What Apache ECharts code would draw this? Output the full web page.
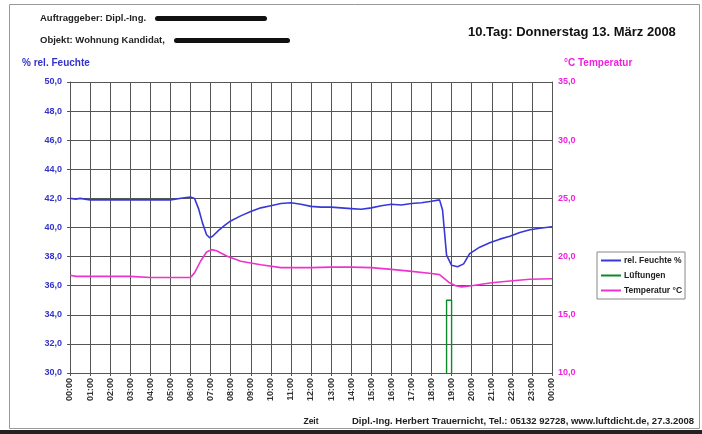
<!DOCTYPE html>
<html><head><meta charset="utf-8">
<script src="https://cdn.jsdelivr.net/npm/echarts@6/dist/echarts.min.js"></script>
<style>html,body{margin:0;padding:0;background:#fff}#c{width:702px;height:434px}</style>
</head><body><div id="c"></div>
<script>
// x tick labels (hours)
var timeLabels = ["00:00","01:00","02:00","03:00","04:00","05:00","06:00","07:00","08:00","09:00","10:00","11:00","12:00","13:00","14:00","15:00","16:00","17:00","18:00","19:00","20:00","21:00","22:00","23:00","00:00"];
var seriesNames = ["rel. Feuchte %", "Lüftungen", "Temperatur °C"];
// [hour, % rel. Feuchte]
var humidity = [[0,42.0],[0.3,41.95],[0.5,42.0],[1,41.9],[2,41.9],[3,41.9],[4,41.9],[5,41.9],[5.7,42.05],[6,42.1],[6.2,42.0],[6.4,41.3],[6.6,40.3],[6.8,39.5],[6.95,39.3],[7.1,39.4],[7.4,39.8],[7.7,40.15],[8,40.45],[8.5,40.8],[9,41.1],[9.5,41.35],[10,41.5],[10.5,41.65],[11,41.7],[11.5,41.6],[12,41.45],[12.5,41.4],[13,41.4],[13.5,41.35],[14,41.3],[14.5,41.25],[15,41.35],[15.5,41.5],[16,41.6],[16.5,41.55],[17,41.65],[17.5,41.7],[18,41.8],[18.4,41.9],[18.55,41.2],[18.75,38.1],[19.0,37.4],[19.3,37.3],[19.6,37.5],[19.9,38.2],[20.4,38.65],[20.9,38.95],[21.4,39.2],[21.9,39.4],[22.4,39.65],[22.9,39.85],[23.4,39.95],[24,40.05]];
// [hour, Lüftung marker]
var ventilation = [[0,0],[18.75,0],[18.75,35],[19.0,35],[19.0,0],[24,0]];
// [hour, °C]
var temperature = [[0,18.4],[0.3,18.3],[1,18.3],[2,18.3],[3,18.3],[4,18.2],[5,18.2],[6,18.2],[6.2,18.6],[6.5,19.6],[6.8,20.4],[7.05,20.6],[7.3,20.5],[7.8,20.05],[8.5,19.6],[9.5,19.3],[10.5,19.05],[11,19.05],[12,19.05],[13,19.1],[14,19.1],[15,19.05],[16,18.9],[16.9,18.75],[18,18.55],[18.4,18.45],[18.9,17.75],[19.2,17.5],[19.5,17.4],[20.0,17.5],[20.4,17.6],[21,17.75],[21.9,17.9],[22.9,18.05],[24,18.1]];

var FONT = "Liberation Sans, Arial, sans-serif";
var chart = echarts.init(document.getElementById('c'));
function comma(v){ return v.toFixed(1).replace('.', ','); }
chart.setOption({
  animation: false,
  backgroundColor: '#fff',
  textStyle: { fontFamily: FONT },
  grid: { left: 70, right: 150, top: 82, bottom: 61 },
  legend: {
    orient: 'vertical', left: 597, top: 252,
    data: seriesNames, icon: 'rect',
    borderColor: '#888', borderWidth: 1, padding: [4, 3, 4, 4],
    itemWidth: 20, itemHeight: 2, itemGap: 6,
    textStyle: { fontSize: 8.5, fontWeight: 'bold', color: '#222', fontFamily: FONT, padding: [0, 0, 0, -2] }
  },
  xAxis: {
    type: 'value', min: 0, max: 24, interval: 1,
    axisLine: { show: true, lineStyle: { color: '#555' } },
    axisTick: { show: true, length: 3, lineStyle: { color: '#555' } },
    splitLine: { show: true, lineStyle: { color: '#555', width: 1 } },
    axisLabel: { rotate: 90, fontSize: 9, fontWeight: 'bold', color: '#333', margin: 5,
      formatter: function(v){ return timeLabels[Math.round(v)]; } },
    name: 'Zeit', nameLocation: 'middle', nameGap: 44,
    nameTextStyle: { fontSize: 8.5, fontWeight: 'bold', color: '#222' }
  },
  yAxis: [{
    type: 'value', min: 30, max: 50, interval: 2,
    axisLine: { show: true, lineStyle: { color: '#555' } },
    axisTick: { show: true, length: 3, lineStyle: { color: '#555' } },
    splitLine: { show: true, lineStyle: { color: '#555', width: 1 } },
    axisLabel: { fontSize: 9, fontWeight: 'bold', color: '#3333cc', margin: 8, formatter: comma }
  }, {
    type: 'value', min: 10, max: 35, interval: 5,
    axisLine: { show: true, lineStyle: { color: '#555' } },
    axisTick: { show: false },
    splitLine: { show: false },
    axisLabel: { fontSize: 9, fontWeight: 'bold', color: '#ee22dd', margin: 6, formatter: comma }
  }],
  series: [{
    name: seriesNames[0], type: 'line', data: humidity, yAxisIndex: 0,
    symbol: 'none', lineStyle: { color: '#3838d8', width: 1.6 }, itemStyle: { color: '#3838d8' }
  }, {
    name: seriesNames[1], type: 'line', data: ventilation, yAxisIndex: 0,
    symbol: 'none', clip: true, lineStyle: { color: '#0a8a2a', width: 1.4 }, itemStyle: { color: '#0a8a2a' }
  }, {
    name: seriesNames[2], type: 'line', data: temperature, yAxisIndex: 1,
    symbol: 'none', lineStyle: { color: '#ee33cc', width: 1.6 }, itemStyle: { color: '#ee33cc' }
  }],
  graphic: [
    { type: 'rect', shape: { x: 9.5, y: 4.5, width: 690, height: 424 }, style: { fill: 'none', stroke: '#999', lineWidth: 1 } },
    { type: 'rect', shape: { x: 0, y: 430, width: 702, height: 4 }, style: { fill: '#222' } },
    { type: 'text', left: 40, top: 13, style: { text: 'Auftraggeber: Dipl.-Ing.', fontSize: 9.5, fontWeight: 'bold', fill: '#222', fontFamily: FONT } },
    { type: 'rect', shape: { x: 155, y: 16, width: 112, height: 5, r: 2.5 }, style: { fill: '#111' } },
    { type: 'text', left: 40, top: 35, style: { text: 'Objekt: Wohnung Kandidat,', fontSize: 9.5, fontWeight: 'bold', fill: '#222', fontFamily: FONT } },
    { type: 'rect', shape: { x: 174, y: 38, width: 116, height: 5, r: 2.5 }, style: { fill: '#111' } },
    { type: 'text', left: 468, top: 26, style: { text: '10.Tag: Donnerstag 13. März 2008', fontSize: 13, fontWeight: 'bold', fill: '#111', fontFamily: FONT } },
    { type: 'text', left: 22, top: 58, style: { text: '% rel. Feuchte', fontSize: 10, fontWeight: 'bold', fill: '#3333cc', fontFamily: FONT } },
    { type: 'text', left: 564, top: 58, style: { text: '°C Temperatur', fontSize: 10, fontWeight: 'bold', fill: '#ee22dd', fontFamily: FONT } },
    { type: 'text', left: 352, top: 416, style: { text: 'Dipl.-Ing. Herbert Trauernicht, Tel.: 05132 92728, www.luftdicht.de, 27.3.2008', fontSize: 9.5, fontWeight: 'bold', fill: '#222', fontFamily: FONT } }
  ]
});
</script></body></html>
